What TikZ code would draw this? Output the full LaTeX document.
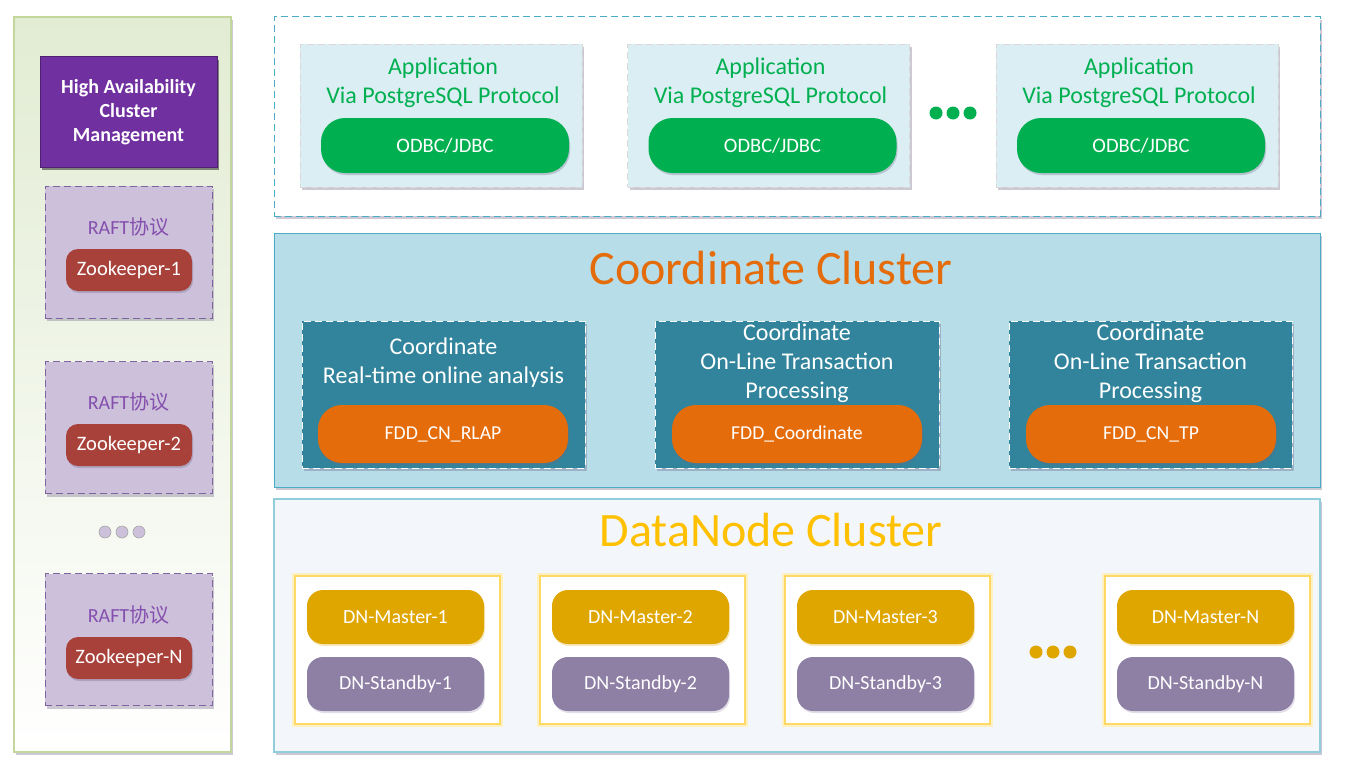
\documentclass[tikz,border=0pt]{standalone}
\usepackage{fontspec}
\setmainfont{Carlito}
\newfontfamily\cjk{Noto Sans CJK SC}
\usetikzlibrary{shadows}
\definecolor{leftborder}{HTML}{C3D69B}
\definecolor{leftfill}{HTML}{E2ECD3}
\definecolor{hapurple}{HTML}{7030A0}
\definecolor{raftfill}{HTML}{CCC0DA}
\definecolor{raftborder}{HTML}{8064A2}
\definecolor{zkred}{HTML}{A8413A}
\definecolor{appfill}{HTML}{DAEEF3}
\definecolor{appgreen}{HTML}{00B050}
\definecolor{topborder}{HTML}{4BACC6}
\definecolor{coordfill}{HTML}{B7DDE8}
\definecolor{coordbox}{HTML}{31849B}
\definecolor{cnorange}{HTML}{E46C0A}
\definecolor{dnfill}{HTML}{F3F6FA}
\definecolor{dnborder}{HTML}{92CDDC}
\definecolor{dngold}{HTML}{FFC000}
\definecolor{grpborder}{HTML}{FFD966}
\definecolor{master}{HTML}{DFA600}
\definecolor{standby}{HTML}{8E7FA5}
\definecolor{shadowc}{HTML}{6E6585}
\begin{document}
\begin{tikzpicture}[x=1pt,y=-1pt,
  shd/.style={drop shadow={shadow xshift=2pt,shadow yshift=-3pt,opacity=0.35,fill=shadowc}},
  box/.style={draw,inner sep=0pt,outer sep=0pt,minimum width=#1},
  panel/.style={shd,inner sep=0pt,minimum width=1046pt},
  dashline/.style={dash pattern=on 7pt off 4pt},
  raftbox/.style={box=167pt,minimum height=132pt,fill=raftfill,draw=raftborder,dashline,line width=1pt,shd},
  zkpill/.style={inner sep=0pt,minimum width=126pt,minimum height=42pt,rounded corners=12pt,fill=zkred,text=white,font=\fontsize{20.5}{22}\selectfont,drop shadow={shadow xshift=1pt,shadow yshift=-2pt,opacity=0.3,fill=shadowc}},
  rafttext/.style={text=hapurple!85!white,font=\fontsize{20}{22}\selectfont},
  appbox/.style={box=#1,minimum height=143pt,fill=appfill,draw=white!85!black,dashline,line width=0.8pt,shd},
  apptext/.style={text=appgreen,align=center,font=\fontsize{24}{29}\selectfont},
  apppill/.style={inner sep=0pt,minimum width=248pt,minimum height=55pt,rounded corners=24pt,fill=appgreen,text=white,font=\fontsize{20.5}{22}\selectfont,drop shadow={shadow xshift=1pt,shadow yshift=-2pt,opacity=0.3,fill=shadowc}},
  cnbox/.style={box=#1,minimum height=147pt,fill=coordbox,draw=white,dashline,line width=1pt,shd},
  cntext/.style={text=white,align=center,font=\fontsize{24}{29}\selectfont},
  cnpill/.style={inner sep=0pt,minimum width=250pt,minimum height=58pt,rounded corners=24pt,fill=cnorange,text=white,font=\fontsize{19.7}{22}\selectfont,drop shadow={shadow xshift=1pt,shadow yshift=-2pt,opacity=0.3,fill=shadowc}},
  grp/.style={box=205pt,minimum height=148pt,fill=white,draw=grpborder,line width=1.5pt,
    preaction={draw=grpborder!40,line width=6pt}},
  dnpill/.style={inner sep=0pt,minimum width=177pt,minimum height=54pt,rounded corners=16pt,text=white,font=\fontsize{20}{22}\selectfont,fill=#1,drop shadow={shadow xshift=1pt,shadow yshift=-2pt,opacity=0.25,fill=#1}},
  dot/.style={circle,inner sep=0pt,minimum size=#1}
]
\useasboundingbox (0,0) rectangle (1349,768);

% ---------------- left panel ----------------
\node[box=217pt,minimum height=735pt,draw=leftborder,line width=2pt,top color=leftfill,bottom color=white,shd] (left) at (122.5,384.5) {};
\node[inner sep=0pt,minimum width=177pt,minimum height=110pt,fill=hapurple,draw=hapurple!70!black,line width=1pt,text=white,align=center,font=\fontsize{20}{24}\selectfont\bfseries,drop shadow={shadow xshift=2pt,shadow yshift=-3pt,opacity=0.45,fill=black}] (ha) at (128.5,112) {High Availability\\Cluster\\Management};

\node[raftbox] (raft1) at (128.5,252) {};
\node[rafttext] (raft1t) at (128.5,227) {RAFT{\cjk 协议}};
\node[zkpill] (zk1) at (129,270) {Zookeeper-1};

\node[raftbox] (raft2) at (128.5,427.5) {};
\node[rafttext] (raft2t) at (128.5,402) {RAFT{\cjk 协议}};
\node[zkpill] (zk2) at (129,445) {Zookeeper-2};

\node[raftbox] (raft3) at (128.5,639.5) {};
\node[rafttext] (raft3t) at (128.5,615) {RAFT{\cjk 协议}};
\node[zkpill] (zk3) at (129,658) {Zookeeper-N};

\foreach \i/\x in {1/105,2/122,3/139}
  \node[dot=12pt,fill=raftfill,draw=gray!70,line width=0.6pt] (ld\i) at (\x,532) {};

% ---------------- top panel ----------------
\node[panel,minimum height=199pt,fill=white,draw=topborder,dashline,line width=1pt] (top) at (797,116.5) {};
\foreach \n/\x in {1/441,2/768.5,3/1137}{
  \node[appbox=282pt] (app\n) at (\x,115.5) {};
  \node[apptext] (app\n t) at (\x+2,82.5) {Application\\Via PostgreSQL Protocol};
  \node[apppill] (odbc\n) at (\x+4,145.5) {ODBC/JDBC};
}
\foreach \i/\x in {1/936,2/953,3/970}
  \node[dot=13pt,fill=appgreen] (gd\i) at (\x,113) {};

% ---------------- coordinate cluster ----------------
\node[panel,minimum height=254pt,fill=coordfill,draw=topborder,line width=1pt] (coord) at (797,360) {};
\node[text=cnorange,font=\fontsize{48}{52}\selectfont] (coordtitle) at (771,268) {Coordinate Cluster};

\node[cnbox=283pt] (cn1) at (443.5,394.5) {};
\node[cntext] (cn1t) at (443.5,363) {Coordinate\\Real-time online analysis};
\node[cnpill] (cnp1) at (443,434) {FDD\_CN\_RLAP};

\node[cnbox=284pt] (cn2) at (797,394.5) {};
\node[cntext] (cn2t) at (797,363) {Coordinate\\On-Line Transaction\\Processing};
\node[cnpill] (cnp2) at (797,434) {FDD\_Coordinate};

\node[cnbox=283pt] (cn3) at (1150.5,394.5) {};
\node[cntext] (cn3t) at (1150.5,363) {Coordinate\\On-Line Transaction\\Processing};
\node[cnpill] (cnp3) at (1151,434) {FDD\_CN\_TP};

% ---------------- datanode cluster ----------------
\node[panel,minimum height=253pt,fill=dnfill,draw=dnborder,line width=2.5pt] (dn) at (797,625.5) {};
\node[text=dngold,font=\fontsize{48}{52}\selectfont] (dntitle) at (771,530) {DataNode Cluster};

\foreach \n/\x/\lab in {1/397.5/1,2/642.5/2,3/887.5/3,4/1207.5/N}{
  \node[grp] (grp\n) at (\x,650) {};
  \node[dnpill=master] (master\n) at (\x-2,617) {DN-Master-\lab};
  \node[dnpill=standby] (standby\n) at (\x-2,684) {DN-Standby-\lab};
}
\foreach \i/\x in {1/1036,2/1053,3/1070}
  \node[dot=13pt,fill=master] (od\i) at (\x,652) {};
\end{tikzpicture}
\end{document}
